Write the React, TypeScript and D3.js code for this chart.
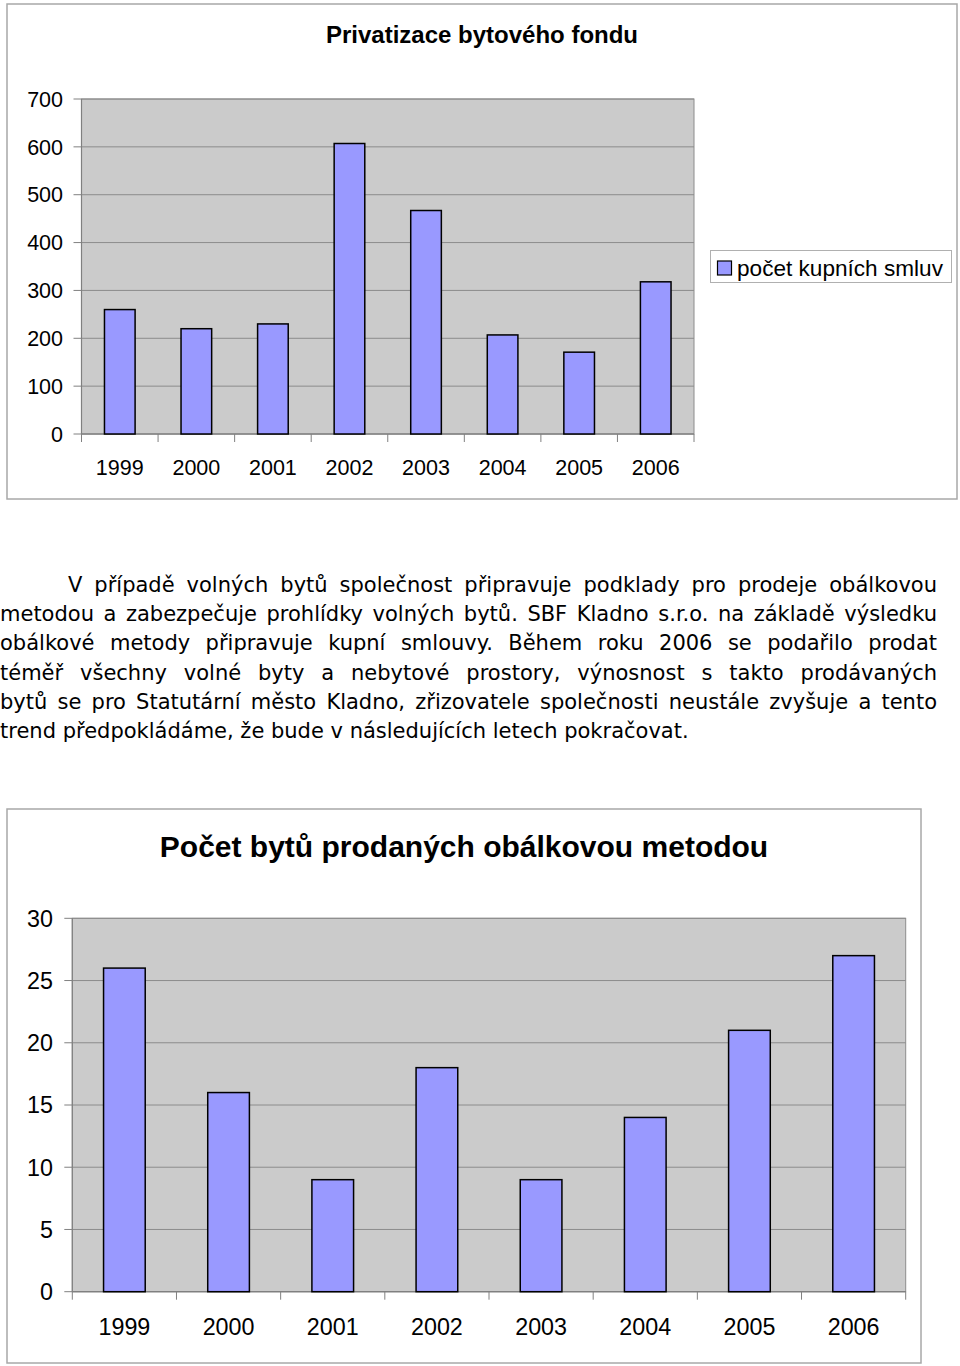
import React from 'react';
import * as d3 from 'd3';

const years = ['1999', '2000', '2001', '2002', '2003', '2004', '2005', '2006'];
const contractCounts = [260, 220, 230, 607, 467, 207, 171, 318];
const envelopeSales = [26, 16, 9, 18, 9, 14, 21, 27];
const topTicks = [0, 100, 200, 300, 400, 500, 600, 700];
const bottomTicks = [0, 5, 10, 15, 20, 25, 30];
const topTitle = 'Privatizace bytového fondu';
const bottomTitle = 'Počet bytů prodaných obálkovou metodou';
const legendLabel = 'počet kupních smluv';
const paragraphLines = [
  'V případě volných bytů společnost připravuje podklady pro prodeje obálkovou',
  'metodou a zabezpečuje prohlídky volných bytů. SBF Kladno s.r.o. na základě výsledku',
  'obálkové metody připravuje kupní smlouvy. Během roku 2006 se podařilo prodat',
  'téměř všechny volné byty a nebytové prostory, výnosnost s takto prodávaných',
  'bytů se pro Statutární město Kladno, zřizovatele společnosti neustále zvyšuje a tento',
  'trend předpokládáme, že bude v následujících letech pokračovat.',
];

const SANS = '"Liberation Sans", Arial, Helvetica, sans-serif';
const PARA_FONT_FAMILY = '"DejaVu Sans", sans-serif';
const BAR_FILL = '#9999ff';
const PLOT_BG = '#cbcbcb';
const GRID = '#8c8c8c';

type ChartProps = {
  box: { x: number; y: number; w: number; h: number };
  plot: { left: number; top: number; right: number; bottom: number };
  values: number[];
  ticks: number[];
  title: string;
  titleSize: number;
  titleY: number;
  labelSize: number;
  yLabelRight: number;
  xLabelY: number;
};

function BarChart(p: ChartProps) {
  const { plot } = p;
  const yMax = p.ticks[p.ticks.length - 1];
  const y = d3.scaleLinear().domain([0, yMax]).range([plot.bottom, plot.top]);
  const x = d3
    .scaleBand<string>()
    .domain(years)
    .range([plot.left, plot.right])
    .paddingInner(0.6)
    .paddingOuter(0.3);
  const step = x.step();
  const boundaries = d3.range(years.length + 1).map((i) => plot.left + i * step);
  return (
    <g>
      <rect
        x={p.box.x}
        y={p.box.y}
        width={p.box.w}
        height={p.box.h}
        fill="#fff"
        stroke="#a8a8a8"
        strokeWidth={1.5}
      />
      <text
        x={p.box.x + p.box.w / 2}
        y={p.titleY}
        textAnchor="middle"
        fontFamily={SANS}
        fontWeight="bold"
        fontSize={p.titleSize}
        fill="#000"
      >
        {p.title}
      </text>
      <rect
        x={plot.left}
        y={plot.top}
        width={plot.right - plot.left}
        height={plot.bottom - plot.top}
        fill={PLOT_BG}
        stroke={GRID}
        strokeWidth={1}
      />
      {p.ticks.map((t) => (
        <g key={t}>
          <line x1={plot.left} x2={plot.right} y1={y(t)} y2={y(t)} stroke={GRID} strokeWidth={1} />
          <line x1={plot.left - 8} x2={plot.left} y1={y(t)} y2={y(t)} stroke="#808080" strokeWidth={1} />
          <text
            x={p.yLabelRight}
            y={y(t)}
            dy="0.36em"
            textAnchor="end"
            fontFamily={SANS}
            fontSize={p.labelSize}
            fill="#000"
          >
            {t}
          </text>
        </g>
      ))}
      <line x1={plot.left} x2={plot.left} y1={plot.top} y2={plot.bottom} stroke="#808080" strokeWidth={1.2} />
      <line x1={plot.left} x2={plot.right} y1={plot.bottom} y2={plot.bottom} stroke="#808080" strokeWidth={1.2} />
      {boundaries.map((bx, i) => (
        <line key={i} x1={bx} x2={bx} y1={plot.bottom} y2={plot.bottom + 8} stroke="#808080" strokeWidth={1} />
      ))}
      {years.map((yr, i) => (
        <rect
          key={yr}
          x={x(yr)}
          y={y(p.values[i])}
          width={x.bandwidth()}
          height={plot.bottom - y(p.values[i])}
          fill={BAR_FILL}
          stroke="#000"
          strokeWidth={1.5}
        />
      ))}
      {years.map((yr) => (
        <text
          key={yr}
          x={(x(yr) as number) + x.bandwidth() / 2}
          y={p.xLabelY}
          textAnchor="middle"
          fontFamily={SANS}
          fontSize={p.labelSize}
          fill="#000"
        >
          {yr}
        </text>
      ))}
    </g>
  );
}

let measureCtx: CanvasRenderingContext2D | null = null;
function measure(text: string, font: string): number {
  if (!measureCtx) {
    const c = document.createElement('canvas');
    measureCtx = c.getContext('2d');
  }
  if (!measureCtx) return text.length * 10;
  measureCtx.font = font;
  return measureCtx.measureText(text).width;
}

function Paragraph() {
  const fontSize = 21;
  const font = `${fontSize}px ${PARA_FONT_FAMILY}`;
  const right = 937;
  const firstBaseline = 592;
  const lineGap = 29.2;
  return (
    <g fontFamily={PARA_FONT_FAMILY} fontSize={fontSize} fill="#000">
      {paragraphLines.map((line, li) => {
        const start = li === 0 ? 68 : 0;
        const words = line.split(' ');
        const widths = words.map((w) => measure(w, font));
        const total = d3.sum(widths);
        const last = li === paragraphLines.length - 1;
        const gap = last ? measure(' ', font) : (right - start - total) / (words.length - 1);
        let cx = start;
        const ys = firstBaseline + li * lineGap;
        return (
          <text key={li} y={ys}>
            {words.map((w, wi) => {
              const px = cx;
              cx += widths[wi] + gap;
              return (
                <tspan key={wi} x={px}>
                  {w}
                </tspan>
              );
            })}
          </text>
        );
      })}
    </g>
  );
}

export default function App() {
  return (
    <svg
      width={960}
      height={1366}
      style={{ position: 'absolute', left: 0, top: 0, display: 'block', background: '#fff' }}
    >
      <BarChart
        box={{ x: 7, y: 4, w: 950, h: 495 }}
        plot={{ left: 81.5, top: 99, right: 694, bottom: 434 }}
        values={contractCounts}
        ticks={topTicks}
        title={topTitle}
        titleSize={24}
        titleY={43}
        labelSize={21.5}
        yLabelRight={63}
        xLabelY={475}
      />
      <g>
        <rect x={710.5} y={250.5} width={241} height={32} fill="#fff" stroke="#b0b0b0" strokeWidth={1} />
        <rect x={717.5} y={261} width={14} height={14} fill={BAR_FILL} stroke="#000" strokeWidth={1.2} />
        <text x={737} y={276} fontFamily={SANS} fontSize={22.6} fill="#000">
          {legendLabel}
        </text>
      </g>
      <Paragraph />
      <BarChart
        box={{ x: 7, y: 809, w: 914, h: 554 }}
        plot={{ left: 72.3, top: 918.3, right: 905.7, bottom: 1291.7 }}
        values={envelopeSales}
        ticks={bottomTicks}
        title={bottomTitle}
        titleSize={30}
        titleY={857}
        labelSize={23.3}
        yLabelRight={53}
        xLabelY={1335}
      />
    </svg>
  );
}
